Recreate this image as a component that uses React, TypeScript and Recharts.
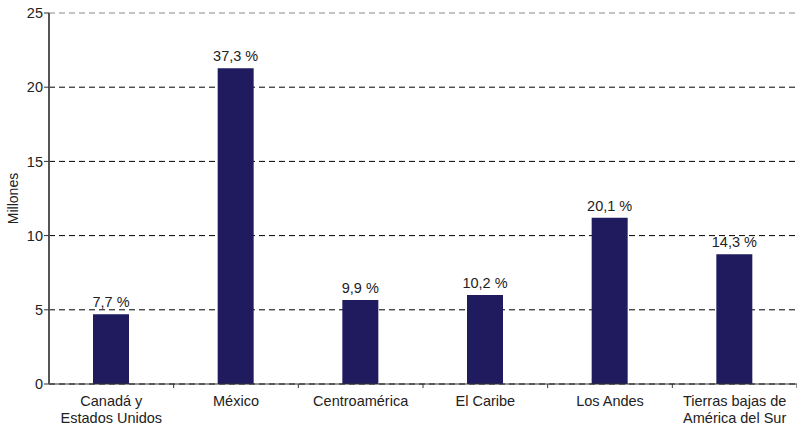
import { BarChart, Bar, XAxis, YAxis, CartesianGrid, LabelList } from "recharts";

// Population by region (millions) with share labels on top of each bar.
const categories = [
  ["Canadá y", "Estados Unidos"],
  ["México"],
  ["Centroamérica"],
  ["El Caribe"],
  ["Los Andes"],
  ["Tierras bajas de", "América del Sur"],
];
const millions = [4.7, 21.27, 5.66, 6.0, 11.2, 8.74];
const shares = ["7,7 %", "37,3 %", "9,9 %", "10,2 %", "20,1 %", "14,3 %"];
const yTicks = [0, 5, 10, 15, 20, 25];

const FONT = "'Liberation Sans', Arial, Helvetica, sans-serif";
const FS = 14.5;
const BAR = "#1f1b5e";
const TEXT = "#222";

const rows = categories.map((c, i) => ({
  name: c.join(" "),
  lines: c,
  value: millions[i],
  share: shares[i],
}));

// Category label (1 or 2 lines) + a tick mark on the right edge of the band,
// as in the original where ticks sit between categories.
function CategoryTick(props: any) {
  const { x, y, payload, index } = props;
  const half = payload?.offset ?? 0;
  const lines: string[] = rows[index]?.lines ?? [String(payload.value)];
  return (
    <g>
      <line x1={x + half} y1={y - 4} x2={x + half} y2={y - 8} stroke="#333" strokeWidth={1} />
      <text x={x} y={y} textAnchor="middle" fill={TEXT} fontSize={FS} fontFamily={FONT}>
        {lines.map((l, i) => (
          <tspan key={i} x={x} dy={i === 0 ? 14 : 17}>
            {l}
          </tspan>
        ))}
      </text>
    </g>
  );
}

// Share label above a bar, no wrapping to the bar width.
function ShareLabel(props: any) {
  const { x, y, width, value } = props;
  return (
    <text x={x + width / 2} y={y - 7} textAnchor="middle" fill={TEXT} fontSize={FS} fontFamily={FONT}>
      {value}
    </text>
  );
}

function GridLine(props: any) {
  const { x1, x2, y1, y2, y } = props;
  const top = y1 <= y + 0.5;
  return (
    <line
      x1={x1}
      x2={x2}
      y1={y1}
      y2={y2}
      stroke={top ? "#888" : "#000"}
      strokeWidth={1}
      strokeDasharray="6 4"
    />
  );
}

function YLabel(props: any) {
  const { viewBox } = props;
  const cx = viewBox.x + 13;
  const cy = viewBox.y + viewBox.height / 2;
  return (
    <text
      x={cx}
      y={cy}
      transform={`rotate(-90 ${cx} ${cy})`}
      textAnchor="middle"
      dominantBaseline="central"
      fill={TEXT}
      fontSize={14}
      fontFamily={FONT}
    >
      Millones
    </text>
  );
}

export default function App() {
  return (
    <div style={{ position: "absolute", left: 0, top: 0, width: 797, height: 427, background: "#fff" }}>
      <BarChart
        width={797}
        height={427}
        data={rows}
        margin={{ top: 13, right: 0, left: 0, bottom: 0 }}
        barCategoryGap={0}
      >
        <CartesianGrid vertical={false} horizontal={(p: any) => <GridLine {...p} />} />
        <XAxis
          dataKey="name"
          height={43}
          interval={0}
          tickLine={false}
          axisLine={{ stroke: "#333", strokeWidth: 1 }}
          tick={<CategoryTick />}
        />
        <YAxis
          width={49}
          domain={[0, 25]}
          ticks={yTicks}
          interval={0}
          tickSize={5}
          tickMargin={1}
          axisLine={{ stroke: "#555", strokeWidth: 2 }}
          tickLine={{ stroke: "#333" }}
          tick={{ fill: TEXT, fontSize: FS, fontFamily: FONT }}
          label={<YLabel />}
        />
        <Bar dataKey="value" fill={BAR} barSize={36} isAnimationActive={false}>
          <LabelList dataKey="share" content={<ShareLabel />} />
        </Bar>
      </BarChart>
    </div>
  );
}
